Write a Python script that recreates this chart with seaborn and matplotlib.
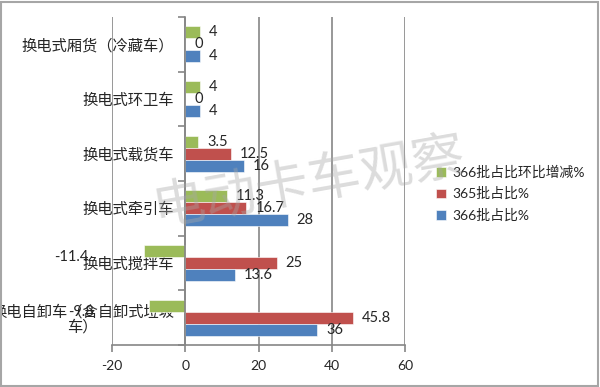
import numpy as np
import pandas as pd
import seaborn as sns
import matplotlib.pyplot as plt
from matplotlib.patches import Rectangle
from matplotlib.ticker import FixedLocator

categories = ["换电式厢货（冷藏车）", "换电式环卫车", "换电式载货车",
              "换电式牵引车", "换电式搅拌车", "换电自卸车（含自卸式垃圾\n车）"]
change_366 = [4, 4, 3.5, 11.3, -11.4, -9.8]
share_365 = [0, 0, 12.5, 16.7, 25, 45.8]
share_366 = [4, 4, 16, 28, 13.6, 36]
series = ["366批占比环比增减%", "365批占比%", "366批占比%"]
colors = ["#9BBB59", "#C0504D", "#4F81BD"]
xticks = [-20, 0, 20, 40, 60]

df = pd.DataFrame({
    "车型": categories * 3,
    "系列": np.repeat(series, len(categories)),
    "值": change_366 + share_365 + share_366,
})

sns.set_style("white")
plt.rcParams['font.family'] = ['Lato', 'Noto Sans CJK SC']
plt.rcParams['axes.unicode_minus'] = False

grey = "#868686"
fig = plt.figure(figsize=(6, 3.87), dpi=100)
ax = fig.add_axes([0.1867, 0.1085, 0.4883, 0.8475])

sns.barplot(data=df, y="车型", x="值", hue="系列", hue_order=series,
            palette=colors, orient="h", width=0.66, saturation=1,
            edgecolor="white", linewidth=0.4, ax=ax)

ax.set_xlim(-20, 60)
ax.set_xticks(xticks)
ax.set_xlabel("")
ax.set_ylabel("")
ax.grid(axis="x", color=grey, lw=1.2)
ax.set_axisbelow(True)

for s in ["top", "right"]:
    ax.spines[s].set_visible(False)
ax.spines["left"].set_position(("data", 0))
ax.spines["left"].set_color(grey)
ax.spines["left"].set_linewidth(1.2)
ax.spines["bottom"].set_color(grey)
ax.spines["bottom"].set_linewidth(1.2)

ax.yaxis.set_minor_locator(FixedLocator(np.arange(-0.5, len(categories), 1)))
ax.tick_params(axis="y", which="major", left=True, length=0, pad=8, labelsize=11)
ax.tick_params(axis="y", which="minor", left=True, length=5, color=grey, width=1.2)
ax.tick_params(axis="x", bottom=True, length=5, color=grey, width=1.2, labelsize=10, pad=6)
for lab in ax.get_yticklabels():
    lab.set_multialignment("center")
    lab.set_linespacing(1.05)

# data labels
for cont in ax.containers:
    for p in cont:
        v = p.get_width()
        yc = p.get_y() + p.get_height() / 2
        if v >= 0:
            ax.annotate(f"{v:g}", (v, yc), xytext=(9, 0), textcoords="offset pixels",
                        ha="left", va="center", fontsize=10.5)
        else:
            ax.annotate(f"{v:g}", (v, yc), xytext=(-55, -6), textcoords="offset pixels",
                        ha="right", va="center", fontsize=10.5)

handles, labels = ax.get_legend_handles_labels()
ax.legend_.remove()
fig.legend(handles, labels, loc="center left", bbox_to_anchor=(0.706, 0.50),
           frameon=False, fontsize=10, handlelength=0.7, handleheight=0.7,
           handletextpad=0.5, labelspacing=0.6)

# watermark
fig.text(0.515, 0.525, "电动卡车观察", fontsize=38, color="#a8a8a8", alpha=0.4,
         rotation=10, ha="center", va="center", fontweight="light", zorder=10)

fig.patches.append(Rectangle((0.002, 0.003), 0.995, 0.993, transform=fig.transFigure,
                             fill=False, ec="#a6a6a6", lw=1.5))

fig.savefig("out.png", dpi=100)
